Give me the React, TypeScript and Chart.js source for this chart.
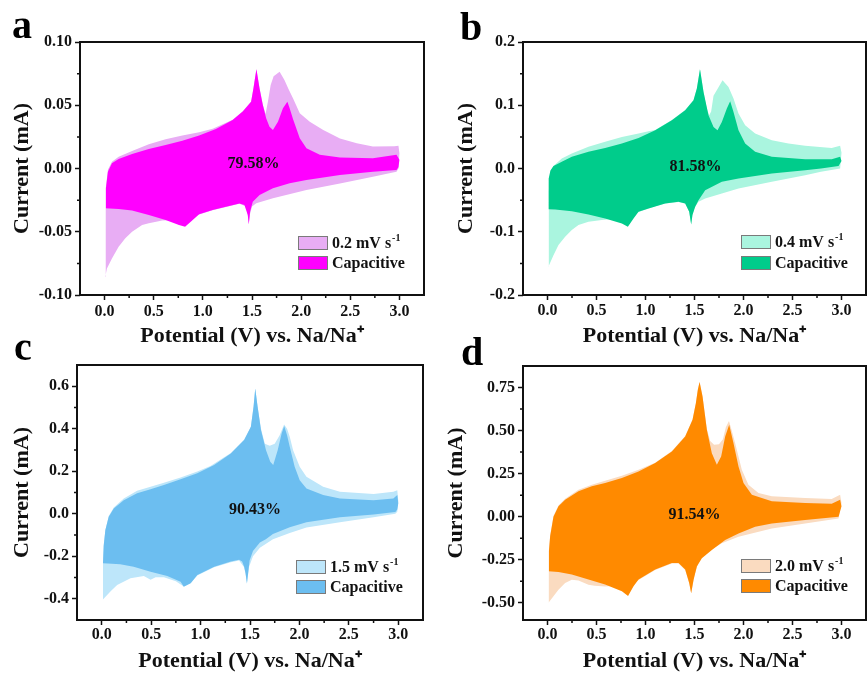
import React, { useEffect, useRef } from 'react';
import { Chart, registerables } from 'chart.js';

Chart.register(...registerables);

const SERIF = '"Liberation Serif", "Times New Roman", Times, serif';

// ---------- shared x axis ----------
const xTickValues = [0, 0.5, 1.0, 1.5, 2.0, 2.5, 3.0];
const xMinorValues = [0.25, 0.75, 1.25, 1.75, 2.25, 2.75];

// ---------- panel a (0.2 mV/s) ----------
const aTotalV = [0.007, 0.010, 0.014, 0.034, 0.075, 0.143, 0.280, 0.450, 0.621, 0.791, 0.962, 1.100, 1.303, 1.406, 1.491, 1.515, 1.545, 1.576, 1.610, 1.638, 1.660, 1.690, 1.720, 1.781, 1.830, 1.870, 1.917, 1.986, 2.088, 2.225, 2.395, 2.566, 2.730, 2.950, 2.990, 3.000,
  2.990, 2.970, 2.730, 2.395, 2.054, 1.713, 1.543, 1.500, 1.480, 1.467, 1.457, 1.440, 1.372, 1.235, 1.099, 0.962, 0.850, 0.750, 0.650, 0.587, 0.450, 0.382, 0.280, 0.211, 0.143, 0.075, 0.024];
const aTotalI = [-0.0855, -0.050, -0.0157, -0.001, 0.0053, 0.0093, 0.0138, 0.0191, 0.0231, 0.0260, 0.0286, 0.0315, 0.0386, 0.0452, 0.0530, 0.0636, 0.0787, 0.0640, 0.0505, 0.0430, 0.0520, 0.0660, 0.0730, 0.0765, 0.0700, 0.0630, 0.0555, 0.0436, 0.0370, 0.0304, 0.0238, 0.0199, 0.0173, 0.0175, 0.0180, 0.0120,
  0.0000, -0.0025, -0.0065, -0.0118, -0.0170, -0.0236, -0.0275, -0.0300, -0.0360, -0.0441, -0.0368, -0.0300, -0.0278, -0.0304, -0.0330, -0.0364, -0.0400, -0.0410, -0.0410, -0.0412, -0.0433, -0.0447, -0.0500, -0.0552, -0.0618, -0.0711, -0.0790];
const aCapV = [0.007, 0.014, 0.034, 0.075, 0.143, 0.280, 0.450, 0.621, 0.791, 0.962, 1.133, 1.303, 1.406, 1.491, 1.515, 1.545, 1.576, 1.610, 1.644, 1.678, 1.713, 1.764, 1.815, 1.860, 1.883, 1.917, 1.986, 2.054, 2.190, 2.395, 2.730, 2.970, 3.000,
  2.990, 2.970, 2.730, 2.395, 2.054, 1.883, 1.713, 1.577, 1.508, 1.481, 1.467, 1.457, 1.423, 1.372, 1.235, 1.099, 0.962, 0.877, 0.819, 0.757, 0.621, 0.450, 0.280, 0.143];
const aCapI = [-0.0315, -0.0157, -0.0025, 0.0041, 0.0075, 0.0115, 0.0154, 0.0186, 0.0220, 0.0260, 0.0312, 0.0384, 0.0450, 0.0528, 0.0634, 0.0785, 0.0634, 0.0502, 0.0397, 0.0331, 0.0304, 0.0370, 0.0476, 0.0528, 0.0476, 0.0392, 0.0239, 0.0160, 0.0108, 0.0086, 0.0081, 0.0108, 0.0070,
  0.0010, -0.0012, -0.0025, -0.0051, -0.0090, -0.0117, -0.0157, -0.0210, -0.0263, -0.0340, -0.0441, -0.0368, -0.0289, -0.0276, -0.0302, -0.0328, -0.0362, -0.0420, -0.0460, -0.0447, -0.0407, -0.0368, -0.0333, -0.0320];
const aYTicks = [-0.1, -0.05, 0, 0.05, 0.1];
const aYMinor = [-0.075, -0.025, 0.025, 0.075];

// ---------- panel b (0.4 mV/s) ----------
const bTotalV = [0.010, 0.012, 0.015, 0.030, 0.061, 0.146, 0.248, 0.418, 0.588, 0.759, 0.929, 1.031, 1.099, 1.269, 1.405, 1.490, 1.524, 1.556, 1.592, 1.625, 1.650, 1.670, 1.694, 1.745, 1.786, 1.847, 1.898, 1.949, 2.017, 2.119, 2.289, 2.459, 2.629, 2.900, 2.986, 3.000,
  2.986, 2.790, 2.629, 2.289, 1.949, 1.779, 1.609, 1.541, 1.500, 1.479, 1.466, 1.446, 1.405, 1.337, 1.200, 1.031, 0.929, 0.850, 0.750, 0.650, 0.554, 0.418, 0.316, 0.248, 0.180, 0.112, 0.061];
const bTotalI = [-0.155, -0.070, -0.035, -0.005, 0.004, 0.0158, 0.0237, 0.0342, 0.0421, 0.0500, 0.0553, 0.0590, 0.0608, 0.0765, 0.0923, 0.1082, 0.1265, 0.1572, 0.1212, 0.0950, 0.0840, 0.0900, 0.1150, 0.1284, 0.1395, 0.1290, 0.1105, 0.0868, 0.0684, 0.0553, 0.0447, 0.0395, 0.0358, 0.0326, 0.0358, 0.0250,
  0.0000, -0.0053, -0.0105, -0.0210, -0.0316, -0.0395, -0.0474, -0.0526, -0.0620, -0.0737, -0.0884, -0.0684, -0.0555, -0.0528, -0.0555, -0.0634, -0.0686, -0.0760, -0.0800, -0.0800, -0.0816, -0.0842, -0.0895, -0.0974, -0.1080, -0.1211, -0.1370];
const bCapV = [0.010, 0.012, 0.030, 0.061, 0.146, 0.248, 0.418, 0.588, 0.759, 0.929, 1.099, 1.269, 1.405, 1.490, 1.524, 1.556, 1.592, 1.643, 1.694, 1.735, 1.779, 1.830, 1.864, 1.898, 1.949, 2.017, 2.119, 2.289, 2.629, 2.900, 2.986, 3.000,
  2.970, 2.790, 2.629, 2.289, 1.949, 1.779, 1.609, 1.541, 1.507, 1.479, 1.466, 1.446, 1.405, 1.337, 1.200, 1.031, 0.929, 0.878, 0.820, 0.759, 0.588, 0.418, 0.248, 0.078];
const bCapI = [-0.0643, -0.0160, -0.0030, 0.0040, 0.0105, 0.0184, 0.0263, 0.0326, 0.0395, 0.0484, 0.0605, 0.0763, 0.0921, 0.1080, 0.1263, 0.1570, 0.1210, 0.0842, 0.0658, 0.0605, 0.0737, 0.0947, 0.1063, 0.0895, 0.0605, 0.0395, 0.0263, 0.0184, 0.0147, 0.0147, 0.0184, 0.0120,
  0.0040, 0.0000, -0.0026, -0.0079, -0.0158, -0.0210, -0.0342, -0.0500, -0.0605, -0.0737, -0.0884, -0.0684, -0.0553, -0.0526, -0.0553, -0.0632, -0.0684, -0.0790, -0.0921, -0.0868, -0.0790, -0.0726, -0.0674, -0.0647];
const bYTicks = [-0.2, -0.1, 0, 0.1, 0.2];
const bYMinor = [-0.15, -0.05, 0.05, 0.15];

// ---------- panel c (1.5 mV/s) ----------
const cTotalV = [0.010, 0.013, 0.020, 0.037, 0.071, 0.122, 0.223, 0.358, 0.494, 0.629, 0.798, 0.967, 1.100, 1.306, 1.441, 1.509, 1.536, 1.553, 1.577, 1.611, 1.650, 1.700, 1.750, 1.800, 1.845, 1.875, 1.902, 1.936, 2.003, 2.071, 2.240, 2.410, 2.750, 2.950, 2.990, 3.000,
  2.990, 2.970, 2.750, 2.410, 2.071, 1.902, 1.732, 1.600, 1.530, 1.490, 1.469, 1.455, 1.440, 1.390, 1.306, 1.137, 0.967, 0.900, 0.830, 0.750, 0.629, 0.545, 0.494, 0.426, 0.291, 0.156, 0.088];
const cTotalI = [-0.405, -0.233, -0.150, -0.077, -0.010, 0.030, 0.072, 0.108, 0.127, 0.146, 0.171, 0.199, 0.225, 0.286, 0.349, 0.410, 0.505, 0.590, 0.505, 0.400, 0.330, 0.320, 0.330, 0.370, 0.420, 0.400, 0.362, 0.299, 0.221, 0.174, 0.127, 0.103, 0.093, 0.103, 0.111, 0.060,
  0.010, 0.000, -0.016, -0.040, -0.065, -0.090, -0.120, -0.160, -0.200, -0.250, -0.330, -0.282, -0.252, -0.220, -0.228, -0.252, -0.291, -0.326, -0.342, -0.318, -0.299, -0.299, -0.310, -0.293, -0.304, -0.335, -0.366];
const cCapV = [0.013, 0.020, 0.037, 0.071, 0.122, 0.223, 0.358, 0.494, 0.629, 0.798, 0.967, 1.137, 1.306, 1.441, 1.509, 1.536, 1.553, 1.577, 1.611, 1.662, 1.705, 1.735, 1.780, 1.820, 1.846, 1.875, 1.902, 1.952, 2.003, 2.071, 2.240, 2.410, 2.750, 2.950, 2.990, 3.000,
  2.990, 2.970, 2.750, 2.410, 2.071, 1.902, 1.732, 1.660, 1.600, 1.530, 1.496, 1.469, 1.455, 1.441, 1.420, 1.390, 1.306, 1.137, 0.967, 0.900, 0.830, 0.798, 0.663, 0.494, 0.323, 0.187, 0.060];
const cCapI = [-0.233, -0.150, -0.077, -0.014, 0.025, 0.064, 0.096, 0.115, 0.135, 0.162, 0.191, 0.229, 0.284, 0.347, 0.409, 0.503, 0.589, 0.503, 0.394, 0.299, 0.245, 0.229, 0.299, 0.378, 0.413, 0.370, 0.315, 0.221, 0.158, 0.119, 0.088, 0.072, 0.064, 0.072, 0.088, 0.050,
  0.020, 0.008, -0.003, -0.016, -0.040, -0.063, -0.095, -0.120, -0.135, -0.175, -0.220, -0.327, -0.280, -0.249, -0.225, -0.217, -0.225, -0.249, -0.288, -0.327, -0.343, -0.320, -0.293, -0.273, -0.249, -0.238, -0.234];
const cYTicks = [-0.4, -0.2, 0, 0.2, 0.4, 0.6];
const cYMinor = [-0.3, -0.1, 0.1, 0.3, 0.5];

// ---------- panel d (2.0 mV/s) ----------
const dTotalV = [0.010, 0.012, 0.015, 0.027, 0.061, 0.112, 0.180, 0.316, 0.452, 0.588, 0.759, 0.929, 1.099, 1.269, 1.405, 1.480, 1.514, 1.534, 1.552, 1.582, 1.626, 1.660, 1.700, 1.750, 1.790, 1.820, 1.852, 1.880, 1.915, 1.983, 2.050, 2.153, 2.289, 2.629, 2.900, 2.986, 3.000,
  2.970, 2.629, 2.289, 1.949, 1.779, 1.609, 1.541, 1.500, 1.466, 1.446, 1.405, 1.337, 1.269, 1.099, 0.929, 0.850, 0.750, 0.588, 0.480, 0.418, 0.316, 0.248, 0.180, 0.112, 0.061];
const dTotalI = [-0.500, -0.320, -0.200, -0.110, 0.005, 0.065, 0.104, 0.157, 0.186, 0.209, 0.238, 0.273, 0.313, 0.381, 0.468, 0.565, 0.661, 0.739, 0.784, 0.700, 0.510, 0.440, 0.418, 0.420, 0.450, 0.520, 0.555, 0.500, 0.427, 0.273, 0.186, 0.137, 0.118, 0.108, 0.102, 0.128, 0.080,
  -0.010, -0.039, -0.068, -0.116, -0.155, -0.213, -0.262, -0.340, -0.445, -0.387, -0.310, -0.272, -0.272, -0.310, -0.367, -0.400, -0.400, -0.405, -0.401, -0.395, -0.370, -0.366, -0.385, -0.424, -0.462];
const dCapV = [0.010, 0.015, 0.027, 0.061, 0.112, 0.180, 0.316, 0.452, 0.588, 0.759, 0.929, 1.099, 1.269, 1.405, 1.480, 1.514, 1.534, 1.552, 1.582, 1.626, 1.677, 1.728, 1.772, 1.813, 1.854, 1.898, 1.949, 2.000, 2.085, 2.289, 2.629, 2.900, 2.986, 3.000,
  2.970, 2.629, 2.289, 2.119, 1.949, 1.813, 1.677, 1.575, 1.524, 1.490, 1.466, 1.446, 1.405, 1.337, 1.269, 1.099, 0.929, 0.878, 0.822, 0.759, 0.588, 0.418, 0.248, 0.112];
const dCapI = [-0.317, -0.200, -0.114, 0.000, 0.060, 0.098, 0.147, 0.176, 0.195, 0.224, 0.263, 0.311, 0.379, 0.466, 0.563, 0.659, 0.737, 0.782, 0.698, 0.505, 0.369, 0.302, 0.350, 0.466, 0.534, 0.427, 0.292, 0.195, 0.128, 0.089, 0.079, 0.075, 0.098, 0.060,
  0.000, -0.019, -0.039, -0.058, -0.097, -0.135, -0.193, -0.242, -0.290, -0.367, -0.445, -0.385, -0.307, -0.269, -0.269, -0.307, -0.365, -0.404, -0.460, -0.433, -0.394, -0.365, -0.336, -0.321];
const dYTicks = [-0.5, -0.25, 0, 0.25, 0.5, 0.75];
const dYMinor = [-0.375, -0.125, 0.125, 0.375, 0.625];

// ---------- labels ----------
const panelLetters = ['a', 'b', 'c', 'd'];
const scanRates = ['0.2', '0.4', '1.5', '2.0'];
const capPercents = ['79.58%', '81.58%', '90.43%', '91.54%'];

type Cfg = {
  letter: string; rate: string; pct: string;
  totV: number[]; totI: number[]; capV: number[]; capI: number[];
  yMin: number; yMax: number; yTicks: number[]; yMinor: number[]; digits: number;
  light: string; dark: string;
  left: number; top: number; w: number; h: number;
  area: { l: number; t: number; r: number; b: number };
  yTitlePad: number; xPad: number;
  letX: number; letY: number; legX: number; legY1: number; legY2: number;
  pctAt: [number, number];
};

const panels: Cfg[] = [
  {
    letter: panelLetters[0], rate: scanRates[0], pct: capPercents[0],
    totV: aTotalV, totI: aTotalI, capV: aCapV, capI: aCapI,
    yMin: -0.1, yMax: 0.1, yTicks: aYTicks, yMinor: aYMinor, digits: 2,
    light: '#E8ADF4', dark: '#FF00FF',
    left: 0, top: 0, w: 434, h: 350, area: { l: 80, t: 42, r: 424, b: 295 },
    yTitlePad: 9, xPad: 2, letX: 12, letY: 38, legX: 298, legY1: 236, legY2: 256, pctAt: [1.515, 0.0036],
  },
  {
    letter: panelLetters[1], rate: scanRates[1], pct: capPercents[1],
    totV: bTotalV, totI: bTotalI, capV: bCapV, capI: bCapI,
    yMin: -0.2, yMax: 0.2, yTicks: bYTicks, yMinor: bYMinor, digits: 1,
    light: '#AAF5DF', dark: '#00CC8B',
    left: 434, top: 0, w: 434, h: 350, area: { l: 89, t: 42, r: 432, b: 295 },
    yTitlePad: 19, xPad: 1, letX: 26, letY: 40, legX: 307, legY1: 235, legY2: 256, pctAt: [1.51, 0.002],
  },
  {
    letter: panelLetters[2], rate: scanRates[2], pct: capPercents[2],
    totV: cTotalV, totI: cTotalI, capV: cCapV, capI: cCapI,
    yMin: -0.5, yMax: 0.7, yTicks: cYTicks, yMinor: cYMinor, digits: 1,
    light: '#BDE6FA', dark: '#6CBEF0',
    left: 0, top: 337, w: 434, h: 338, area: { l: 77, t: 28, r: 423, b: 283 },
    yTitlePad: 9, xPad: 0, letX: 14, letY: 23, legX: 296, legY1: 223, legY2: 243, pctAt: [1.55, 0.017],
  },
  {
    letter: panelLetters[3], rate: scanRates[3], pct: capPercents[3],
    totV: dTotalV, totI: dTotalI, capV: dCapV, capI: dCapI,
    yMin: -0.6, yMax: 0.875, yTicks: dYTicks, yMinor: dYMinor, digits: 2,
    light: '#FADBC0', dark: '#FF8A00',
    left: 434, top: 337, w: 434, h: 338, area: { l: 89, t: 29, r: 432, b: 283 },
    yTitlePad: 9, xPad: 0, letX: 27, letY: 28, legX: 307, legY1: 222, legY2: 242, pctAt: [1.5, 0.012],
  },
];

function toPoints(v: number[], i: number[]) {
  return v.map((x, k) => ({ x, y: i[k] }));
}

function Panel({ cfg }: { cfg: Cfg }) {
  const ref = useRef<HTMLCanvasElement>(null);

  useEffect(() => {
    const canvas = ref.current;
    if (!canvas) return;

    const extras = {
      id: 'extras',
      afterDraw(chart: any) {
        const { ctx, chartArea: ca, scales } = chart;
        const xs = scales.x;
        const ys = scales.y;
        ctx.save();
        // frame
        ctx.strokeStyle = '#111';
        ctx.lineWidth = 2;
        ctx.strokeRect(ca.left, ca.top, ca.right - ca.left, ca.bottom - ca.top);
        // minor ticks
        ctx.lineWidth = 1.5;
        ctx.beginPath();
        for (const v of cfg.yMinor) {
          const p = ys.getPixelForValue(v);
          ctx.moveTo(ca.left - 3, p);
          ctx.lineTo(ca.left, p);
        }
        for (const v of xMinorValues) {
          const p = xs.getPixelForValue(v);
          ctx.moveTo(p, ca.bottom);
          ctx.lineTo(p, ca.bottom + 3);
        }
        ctx.stroke();
        // percentage
        ctx.fillStyle = '#111';
        ctx.font = `bold 16px ${SERIF}`;
        ctx.textAlign = 'center';
        ctx.textBaseline = 'middle';
        ctx.fillText(cfg.pct, xs.getPixelForValue(cfg.pctAt[0]), ys.getPixelForValue(cfg.pctAt[1]));
        // legend
        ctx.textAlign = 'left';
        const items = [
          { color: cfg.light, y: cfg.legY1, text: `${cfg.rate} mV s`, sup: '-1' },
          { color: cfg.dark, y: cfg.legY2, text: 'Capacitive', sup: '' },
        ];
        for (const it of items) {
          ctx.fillStyle = it.color;
          ctx.fillRect(cfg.legX, it.y, 30, 14);
          ctx.strokeStyle = '#7a7a7a';
          ctx.lineWidth = 1;
          ctx.strokeRect(cfg.legX + 0.5, it.y + 0.5, 29, 13);
          ctx.fillStyle = '#111';
          ctx.font = `bold 16px ${SERIF}`;
          ctx.textBaseline = 'middle';
          ctx.fillText(it.text, cfg.legX + 34, it.y + 7.5);
          if (it.sup) {
            const w = ctx.measureText(it.text).width;
            ctx.font = `bold 10px ${SERIF}`;
            ctx.fillText(it.sup, cfg.legX + 34 + w + 1, it.y + 2);
          }
        }
        // panel letter
        ctx.fillStyle = '#000';
        ctx.font = `bold 40px ${SERIF}`;
        ctx.textBaseline = 'alphabetic';
        ctx.fillText(cfg.letter, cfg.letX, cfg.letY);
        ctx.restore();
      },
    };

    const tickFont = { family: SERIF, size: 16, weight: 'bold' as const };
    const titleFont = { family: SERIF, size: 22, weight: 'bold' as const };

    const chart = new Chart(canvas, {
      type: 'line',
      data: {
        datasets: [
          {
            label: 'Capacitive',
            data: toPoints(cfg.capV, cfg.capI),
            backgroundColor: cfg.dark,
            borderColor: 'rgba(0,0,0,0)',
            borderWidth: 0,
            pointRadius: 0,
            pointHoverRadius: 0,
            tension: 0,
            fill: 'shape',
          },
          {
            label: `${cfg.rate} mV s⁻¹`,
            data: toPoints(cfg.totV, cfg.totI),
            backgroundColor: cfg.light,
            borderColor: 'rgba(0,0,0,0)',
            borderWidth: 0,
            pointRadius: 0,
            pointHoverRadius: 0,
            tension: 0,
            fill: 'shape',
          },
        ],
      },
      options: {
        responsive: false,
        maintainAspectRatio: false,
        animation: false,
        devicePixelRatio: 1,
        events: [],
        layout: { padding: { left: 0, top: cfg.area.t, right: cfg.w - cfg.area.r, bottom: 0 } },
        plugins: { legend: { display: false }, tooltip: { enabled: false } },
        scales: {
          x: {
            type: 'linear',
            position: 'bottom',
            min: -0.25,
            max: 3.25,
            bounds: 'data',
            afterFit: (s: any) => { s.height = cfg.h - cfg.area.b; },
            afterBuildTicks: (s: any) => { s.ticks = xTickValues.map((v) => ({ value: v })); },
            ticks: {
              autoSkip: false,
              maxRotation: 0,
              padding: cfg.xPad,
              color: '#111',
              font: tickFont,
              callback: (v: any) => Number(v).toFixed(1),
            },
            grid: { display: true, drawOnChartArea: false, drawTicks: true, tickLength: 5, tickColor: '#111', tickWidth: 1.5 },
            border: { display: false },
            title: {
              display: true,
              text: 'Potential (V) vs. Na/Na⁺',
              color: '#111',
              font: titleFont,
              padding: { top: 0, bottom: 0 },
            },
          },
          y: {
            type: 'linear',
            position: 'left',
            min: cfg.yMin,
            max: cfg.yMax,
            bounds: 'data',
            afterFit: (s: any) => { s.width = cfg.area.l; },
            afterBuildTicks: (s: any) => { s.ticks = cfg.yTicks.map((v) => ({ value: v })); },
            ticks: {
              autoSkip: false,
              padding: 3,
              color: '#111',
              font: tickFont,
              callback: (v: any) => Number(v).toFixed(cfg.digits),
            },
            grid: { display: true, drawOnChartArea: false, drawTicks: true, tickLength: 5, tickColor: '#111', tickWidth: 1.5 },
            border: { display: false },
            title: {
              display: true,
              text: 'Current (mA)',
              color: '#111',
              font: titleFont,
              padding: { top: cfg.yTitlePad, bottom: 0 },
            },
          },
        },
      } as any,
      plugins: [extras],
    });

    return () => chart.destroy();
  }, [cfg]);

  return (
    <canvas
      ref={ref}
      width={cfg.w}
      height={cfg.h}
      style={{ position: 'absolute', left: cfg.left, top: cfg.top, width: cfg.w, height: cfg.h }}
    />
  );
}

export default function App() {
  return (
    <div style={{ position: 'absolute', left: 0, top: 0, width: 868, height: 675, background: '#ffffff', overflow: 'hidden' }}>
      {panels.map((p, i) => (
        <Panel key={i} cfg={p} />
      ))}
    </div>
  );
}
